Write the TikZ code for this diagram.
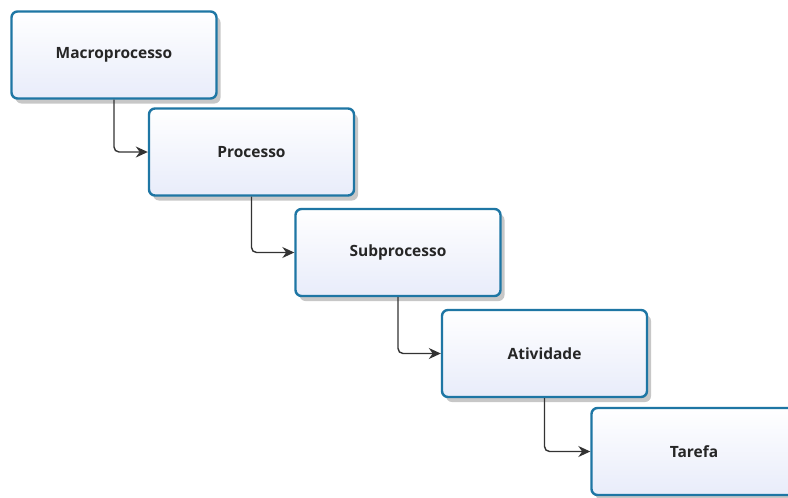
\documentclass[tikz,border=0pt]{standalone}
\usepackage{fontspec}
\setmainfont{Open Sans}
\usetikzlibrary{shadows,arrows.meta}
\definecolor{boxborder}{RGB}{30,118,164}
\definecolor{boxfill}{RGB}{232,236,250}
\tikzset{
  stepbox/.style={draw=boxborder, line width=2.4pt, rounded corners=6pt,
    minimum width=205pt, minimum height=87pt, inner sep=0pt,
    top color=white, bottom color=boxfill,
    drop shadow={shadow xshift=4pt, shadow yshift=-5pt, opacity=0.22, fill=black},
    font=\fontsize{15.5}{18}\selectfont\bfseries, text=black!85},
  link/.style={draw=black!80, line width=1.4pt, rounded corners=5pt,
    -{Stealth[length=12pt,width=11pt]}}
}
\begin{document}
\begin{tikzpicture}[x=1pt,y=-1pt]
\useasboundingbox (0,0) rectangle (788,498);
\clip (0,0) rectangle (788,498);
\fill[white] (0,0) rectangle (788,498);
\node[stepbox] (a) at (114,55) {Macroprocesso};
\node[stepbox] (b) at (251.5,152) {Processo};
\node[stepbox] (c) at (398,252.5) {Subprocesso};
\node[stepbox] (d) at (544.5,353.5) {Atividade};
\node[stepbox] (e) at (694,451.5) {Tarefa};
\draw[link] (a.south) |- (b.west);
\draw[link] (b.south) |- (c.west);
\draw[link] (c.south) |- (d.west);
\draw[link] (d.south) |- (e.west);
\end{tikzpicture}
\end{document}
